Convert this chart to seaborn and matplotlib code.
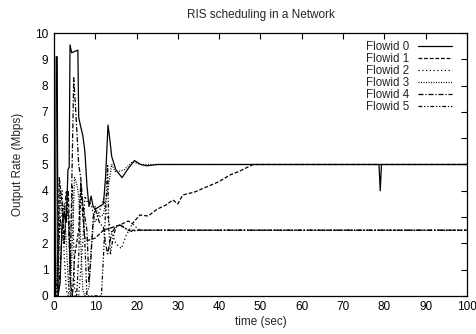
import matplotlib
matplotlib.use("Agg")
import matplotlib.pyplot as plt
import seaborn as sns
import pandas as pd

# ---- data ----
flow0_t = [0, 0.4, 0.55, 0.8, 1.0, 1.5, 2.0, 2.5, 3.0, 3.4, 3.7, 3.9, 4.3, 5.0, 5.8, 6.0, 6.4, 7.0, 7.5, 8.0,
           8.5, 9.0, 9.5, 10, 11, 12, 12.5, 13.1, 13.5, 14, 15, 16.5, 18, 19.5, 21, 22.5, 25, 78.7, 79.0, 79.3, 100]
flow0_v = [0, 0, 9.1, 9.1, 0, 0.5, 2.8, 3.2, 2.8, 4.8, 4.9, 9.55, 9.25, 9.3, 9.35, 6.8, 6.5, 6.1, 5.5, 4.2,
           3.4, 3.8, 3.4, 3.3, 3.4, 3.5, 4.5, 6.5, 6.0, 5.3, 4.8, 4.5, 4.85, 5.15, 5.0, 4.95, 5.0, 5.0, 4.0, 5.0, 5.0]

flow1_t = [0, 0.8, 1.3, 2.0, 2.5, 3.0, 3.5, 4.0, 4.5, 5.0, 6.0, 6.5, 7.0, 7.5, 8.0, 9, 10, 12, 14, 16, 18,
           19, 20.8, 22.8, 25, 27, 28.8, 30, 31.2, 34, 37, 40, 42.6, 45, 48.2, 100]
flow1_v = [0, 0, 4.5, 3.5, 2.0, 3.2, 4.0, 0.5, 0, 1.5, 2.5, 4.3, 3.0, 2.2, 2.1, 2.15, 2.2, 2.5, 2.6, 2.7, 2.85,
           2.75, 3.08, 3.04, 3.3, 3.45, 3.65, 3.5, 3.84, 3.95, 4.15, 4.35, 4.6, 4.75, 5.0, 5.0]

flow2_t = [0, 1, 1.5, 2, 2.5, 3, 3.5, 4, 4.5, 5, 5.5, 6, 7, 7.5, 8, 9, 10, 11, 12, 13, 14, 15, 16.3, 17.5,
           19, 20, 21, 100]
flow2_v = [0, 0, 3.5, 4.0, 1.5, 0.2, 0, 2.0, 4.2, 0.3, 0, 0, 2.0, 3.8, 3.6, 3.5, 2.8, 3.2, 3.7, 3.0, 2.4,
           2.0, 1.8, 2.3, 2.75, 2.6, 2.5, 2.5]

flow3_t = [0, 0.5, 1.0, 1.5, 2, 2.5, 3, 3.5, 4, 5, 5.5, 6, 6.5, 7, 7.5, 8.5, 9, 10, 11, 12, 13, 14, 15, 17,
           19, 21, 100]
flow3_v = [0, 0.3, 2.0, 4.0, 3.0, 3.5, 2.0, 0.5, 0, 4.5, 4.3, 3.8, 2.0, 0.2, 0, 0.3, 1.8, 3.4, 3.0, 3.1,
           4.0, 5.0, 4.7, 4.8, 5.1, 5.0, 5.0]

flow4_t = [0, 1, 1.5, 2, 2.5, 3, 3.5, 4, 4.3, 4.8, 5.3, 6, 6.5, 7, 7.5, 8, 8.5, 9, 9.5, 10, 11, 12, 12.5,
           13, 13.5, 14, 15, 16, 17, 18, 19, 20, 100]
flow4_v = [0, 0, 1.0, 2.5, 3.0, 4.0, 3.0, 1.0, 4.0, 8.3, 7.0, 5.0, 4.5, 3.5, 3.0, 2.5, 0.5, 1.5, 3.0, 3.3,
           2.8, 2.6, 2.0, 1.6, 2.0, 2.4, 2.65, 2.7, 2.6, 2.5, 2.45, 2.5, 2.5]

flow5_t = [0, 0.5, 1, 1.5, 2, 2.5, 3, 3.5, 4, 4.5, 5.5, 6, 6.5, 7, 7.5, 8, 11.5, 12, 12.6, 13, 13.3, 13.7,
           14.3, 15, 16, 18, 100]
flow5_v = [0, 0, 1.0, 3.0, 2.2, 2.0, 3.3, 3.0, 0.5, 0, 0, 1.5, 4.0, 3.5, 2.0, 0, 0, 1.5, 3.5, 5.0, 2.5, 1.6,
           2.2, 2.6, 2.7, 2.5, 2.5]

flow_names = ["Flowid 0", "Flowid 1", "Flowid 2", "Flowid 3", "Flowid 4", "Flowid 5"]
x_ticks = list(range(0, 101, 10))
y_ticks = list(range(0, 11))

series = [(flow0_t, flow0_v), (flow1_t, flow1_v), (flow2_t, flow2_v),
          (flow3_t, flow3_v), (flow4_t, flow4_v), (flow5_t, flow5_v)]
rows = []
for name, (ts, vs) in zip(flow_names, series):
    for t, v in zip(ts, vs):
        rows.append({"time": t, "rate": v, "flow": name})
df = pd.DataFrame(rows)

sns.set_style("white")
plt.rcParams["font.family"] = ["Liberation Sans", "DejaVu Sans"]

fig = plt.figure(figsize=(4.77, 3.34), dpi=100)
ax = fig.add_axes([0.113, 0.114, 0.866, 0.787])

dashes = {
    "Flowid 0": "",
    "Flowid 1": (3, 1.5),
    "Flowid 2": (1, 2),
    "Flowid 3": (0.8, 1.2),
    "Flowid 4": (4, 1.5, 1, 1.5),
    "Flowid 5": (3, 1.5, 1, 1.5, 1, 1.5),
}
palette = {n: "black" for n in flow_names}

sns.lineplot(data=df, x="time", y="rate", hue="flow", style="flow",
             palette=palette, dashes=dashes, estimator=None, sort=False,
             linewidth=0.9, ax=ax)

FS = 8.5
ax.set_xlim(0, 100)
ax.set_ylim(0, 10)
ax.set_xticks(x_ticks)
ax.set_yticks(y_ticks)
ax.tick_params(direction="in", top=True, right=True, length=4, width=0.8,
               labelsize=FS, pad=4, colors="black")
for sp in ax.spines.values():
    sp.set_color("black")
    sp.set_linewidth(0.9)

ax.set_xlabel("time (sec)", fontsize=FS, labelpad=2)
ax.set_ylabel("Output Rate (Mbps)", fontsize=FS, labelpad=8)
ax.set_title("RIS scheduling in a Network", fontsize=FS, pad=11)

handles, labels = ax.get_legend_handles_labels()
leg = ax.legend(handles, labels, loc="upper right", frameon=False, markerfirst=False,
                fontsize=8.3, handlelength=3.0, handletextpad=0.7, labelspacing=0.0,
                borderpad=0, borderaxespad=0, bbox_to_anchor=(0.964, 0.97))

fig.savefig("out.png", dpi=100)
